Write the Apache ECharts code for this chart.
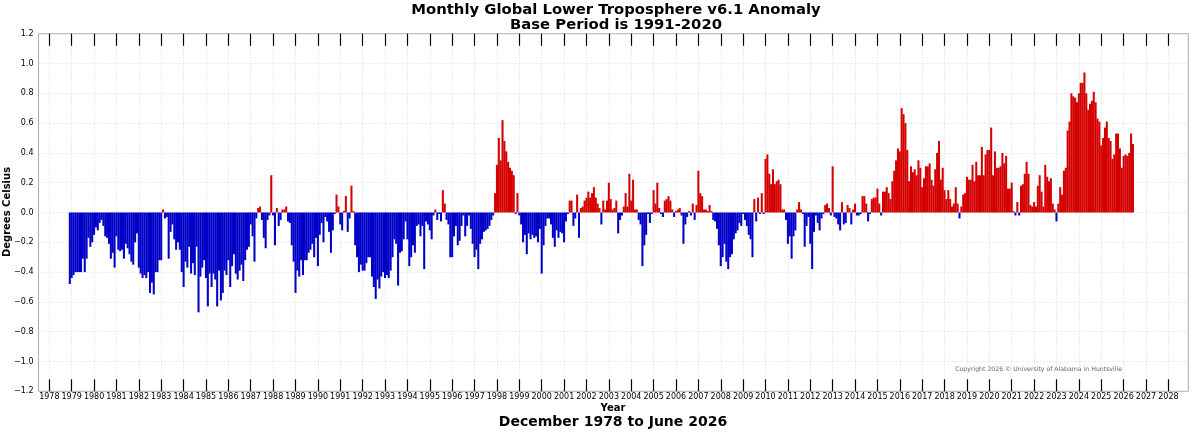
<!DOCTYPE html>
<html><head><meta charset="utf-8">
<script src="https://cdn.jsdelivr.net/npm/echarts@6/dist/echarts.min.js"></script>
<style>html,body{margin:0;padding:0;background:#fff}#c{width:1195px;height:432px}</style>
</head><body><div id="c"></div>
<script>
// first value is December 1978, then consecutive months
const firstYear = 1978, firstMonth = 12;
const anom1970s = [
  -0.48,
  -0.44,-0.42,-0.40,-0.40,-0.40,-0.40,-0.31,-0.40,-0.31,-0.17,-0.23,-0.20 // 1979
];
const anom1980s = [
  -0.15,-0.10,-0.12,-0.07,-0.05,-0.09,-0.16,-0.17,-0.21,-0.31,-0.27,-0.37, // 1980
  -0.16,-0.25,-0.26,-0.25,-0.31,-0.21,-0.24,-0.28,-0.33,-0.35,-0.20,-0.14, // 1981
  -0.37,-0.41,-0.44,-0.42,-0.44,-0.40,-0.54,-0.47,-0.55,-0.40,-0.40,-0.32, // 1982
  -0.32, 0.02,-0.04,-0.03,-0.31,-0.13,-0.08,-0.18,-0.25,-0.20,-0.25,-0.40, // 1983
  -0.50,-0.33,-0.37,-0.23,-0.41,-0.34,-0.42,-0.23,-0.67,-0.43,-0.37,-0.32, // 1984
  -0.44,-0.63,-0.41,-0.50,-0.41,-0.45,-0.63,-0.39,-0.59,-0.54,-0.39,-0.42, // 1985
  -0.32,-0.50,-0.36,-0.28,-0.41,-0.45,-0.39,-0.35,-0.46,-0.32,-0.25,-0.23, // 1986
  -0.08,-0.16,-0.33,-0.04, 0.03, 0.04,-0.05,-0.17,-0.24,-0.05,-0.02, 0.25, // 1987
  -0.02,-0.22, 0.03,-0.09,-0.05, 0.02, 0.02, 0.04,-0.06,-0.07,-0.22,-0.33, // 1988
  -0.54,-0.39,-0.43,-0.32,-0.42,-0.32,-0.32,-0.27,-0.25,-0.21,-0.30,-0.17  // 1989
];
const anom1990s = [
  -0.36,-0.15,-0.07,-0.20,-0.03,-0.06,-0.13,-0.27,-0.12,-0.01, 0.12, 0.04, // 1990
  -0.08,-0.12, 0.01, 0.11,-0.13,-0.04, 0.18, 0.01,-0.22,-0.30,-0.40,-0.35, // 1991
  -0.39,-0.39,-0.34,-0.30,-0.30,-0.43,-0.50,-0.58,-0.45,-0.51,-0.43,-0.40, // 1992
  -0.44,-0.42,-0.44,-0.39,-0.30,-0.18,-0.21,-0.49,-0.27,-0.26,-0.18,-0.06, // 1993
  -0.18,-0.36,-0.30,-0.22,-0.27,-0.09,-0.08,-0.16,-0.09,-0.38,-0.06,-0.08, // 1994
  -0.12,-0.18,-0.02, 0.02,-0.05,-0.01,-0.06, 0.15, 0.06,-0.05,-0.08,-0.30, // 1995
  -0.30,-0.16,-0.09,-0.22,-0.19,-0.09,-0.02,-0.16,-0.09,-0.02,-0.11,-0.21, // 1996
  -0.30,-0.25,-0.38,-0.21,-0.18,-0.13,-0.12,-0.11,-0.09,-0.05,-0.02, 0.13, // 1997
   0.32, 0.50, 0.35, 0.62, 0.48, 0.41, 0.34, 0.30, 0.28, 0.25,-0.01, 0.13, // 1998
  -0.02,-0.08,-0.20,-0.15,-0.28,-0.14,-0.18,-0.15,-0.17,-0.16,-0.20,-0.11  // 1999
];
const anom2000s = [
  -0.41,-0.22,-0.09,-0.04,-0.04,-0.08,-0.17,-0.23,-0.12,-0.17,-0.13,-0.14, // 2000
  -0.20,-0.06,-0.01, 0.08, 0.08,-0.09,-0.04, 0.12,-0.17, 0.03, 0.04, 0.08, // 2001
   0.10, 0.14, 0.10, 0.13, 0.17, 0.10, 0.06, 0.03,-0.08, 0.08, 0.02, 0.08, // 2002
   0.20, 0.09, 0.02, 0.03, 0.08,-0.14,-0.05,-0.02, 0.04, 0.13, 0.04, 0.26, // 2003
   0.08, 0.22, 0.02, 0.02,-0.05,-0.08,-0.36,-0.22,-0.15,-0.01,-0.07,-0.01, // 2004
   0.15, 0.06, 0.20, 0.03,-0.01,-0.03, 0.08, 0.09, 0.11, 0.08, 0.02,-0.03, // 2005
   0.01, 0.02, 0.03,-0.02,-0.21,-0.08,-0.03, 0.01,-0.02, 0.06,-0.05, 0.05, // 2006
   0.28, 0.13, 0.11, 0.02, 0.02, 0.01, 0.05, 0.01,-0.05,-0.06,-0.11,-0.22, // 2007
  -0.36,-0.30,-0.21,-0.33,-0.38,-0.30,-0.28,-0.18,-0.14,-0.12,-0.07,-0.09, // 2008
  -0.01,-0.05,-0.09,-0.15,-0.18,-0.30, 0.09,-0.06, 0.10,-0.01, 0.13,-0.01  // 2009
];
const anom2010s = [
   0.36, 0.39, 0.26, 0.19, 0.29, 0.19, 0.21, 0.22, 0.19, 0.02, 0.02,-0.05, // 2010
  -0.21,-0.16,-0.31,-0.16,-0.12, 0.02, 0.07, 0.02,-0.01,-0.23,-0.09,-0.03, // 2011
  -0.21,-0.38,-0.13,-0.02,-0.07,-0.12,-0.04,-0.01, 0.05, 0.06, 0.03,-0.02, // 2012
   0.31,-0.03,-0.04,-0.08,-0.12, 0.07,-0.08,-0.07, 0.05, 0.03,-0.08, 0.02, // 2013
   0.06,-0.02,-0.02,-0.01, 0.11, 0.11, 0.06,-0.06,-0.01, 0.09, 0.10, 0.10, // 2014
   0.16, 0.06,-0.02, 0.14, 0.14, 0.17, 0.13, 0.09, 0.21, 0.28, 0.35, 0.43, // 2015
   0.41, 0.70, 0.66, 0.60, 0.42, 0.21, 0.31, 0.27, 0.29, 0.25, 0.35, 0.30, // 2016
   0.17, 0.23, 0.31, 0.31, 0.33, 0.22, 0.18, 0.29, 0.40, 0.48, 0.22, 0.30, // 2017
   0.15, 0.09, 0.15, 0.09, 0.04, 0.06, 0.17, 0.06,-0.04, 0.04, 0.12, 0.13, // 2018
   0.24, 0.22, 0.22, 0.32, 0.21, 0.34, 0.25, 0.25, 0.44, 0.25, 0.39, 0.42  // 2019
];
const anom2020s = [
   0.42, 0.57, 0.25, 0.41, 0.30, 0.30, 0.31, 0.40, 0.33, 0.38, 0.16, 0.16, // 2020
   0.20, 0.01,-0.02, 0.07,-0.02, 0.18, 0.19, 0.26, 0.34, 0.26, 0.05, 0.04, // 2021
   0.07, 0.04, 0.18, 0.25, 0.14, 0.04, 0.32, 0.24, 0.21, 0.23, 0.06, 0.02, // 2022
  -0.06, 0.06, 0.17, 0.12, 0.28, 0.30, 0.55, 0.61, 0.80, 0.78, 0.77, 0.74, // 2023
   0.80, 0.87, 0.87, 0.94, 0.80, 0.69, 0.73, 0.75, 0.81, 0.74, 0.63, 0.61, // 2024
   0.45, 0.50, 0.57, 0.61, 0.50, 0.48, 0.36, 0.39, 0.53, 0.53, 0.43, 0.30, // 2025
   0.38, 0.39, 0.38, 0.40, 0.53, 0.46                                      // 2026
];
const yearTicks = [];
for (let y = 1978; y <= 2028; y++) yearTicks.push(y);

const allValues = [].concat(anom1970s, anom1980s, anom1990s, anom2000s, anom2010s, anom2020s);
const points = allValues.map((v, i) => {
  const m = firstMonth - 1 + i;               // months since Jan of firstYear
  const x = firstYear + Math.floor(m / 12) + (m % 12) / 12;
  return [x, v];
});

const font = 'DejaVu Sans';
const chart = echarts.init(document.getElementById('c'), null, {renderer: 'canvas'});
const fmtY = v => (v < -1e-9 ? '\u2212' : '') + Math.abs(v).toFixed(1);
const tickStyle = {show: true, inside: true, length: 12, lineStyle: {color: '#000', width: 1.2}, customValues: yearTicks};
chart.setOption({
  animation: false,
  backgroundColor: '#fff',
  title: {
    text: 'Monthly Global Lower Troposphere v6.1 Anomaly\nBase Period is 1991-2020',
    left: 611, top: -2, textAlign: 'center',
    textStyle: {fontFamily: font, fontSize: 14.8, fontWeight: 'bold', lineHeight: 15, color: '#000'}
  },
  grid: {left: 38.5, top: 33.7, width: 1149.8, height: 357.6, show: true, borderColor: '#aaa', borderWidth: 1, containLabel: false},
  xAxis: [{
    type: 'value', min: 1977.517, max: 2028.89, position: 'bottom',
    axisLine: {show: false, onZero: false},
    axisTick: tickStyle,
    axisLabel: {show: true, customValues: yearTicks, fontFamily: font, fontSize: 8, color: '#000', margin: 2, formatter: v => String(Math.round(v))},
    splitLine: {show: true, lineStyle: {color: '#d0d0d0', type: [1, 2], width: 0.8}}
  }, {
    type: 'value', min: 1977.517, max: 2028.89, position: 'top',
    axisLine: {show: false, onZero: false},
    axisTick: tickStyle,
    axisLabel: {show: false},
    splitLine: {show: false}
  }],
  yAxis: {
    type: 'value', min: -1.2, max: 1.2, interval: 0.2,
    axisLine: {show: false}, axisTick: {show: false},
    axisLabel: {fontFamily: font, fontSize: 8, color: '#000', margin: 5, formatter: fmtY},
    splitLine: {show: true, lineStyle: {color: '#d0d0d0', type: [1, 2], width: 0.8}}
  },
  series: [{
    type: 'bar', xAxisIndex: 0, data: points, barWidth: 2.05,
    itemStyle: {
      color: p => (p.value[1] >= 0 ? '#d40000' : '#0000c8')
    }
  }],
  graphic: [
    {type: 'text', x: 613, y: 403, style: {text: 'Year', font: 'bold 10px "DejaVu Sans"', fill: '#000', align: 'center', verticalAlign: 'top'}},
    {type: 'text', x: 613, y: 415, style: {text: 'December 1978 to June 2026', font: 'bold 14px "DejaVu Sans"', fill: '#000', align: 'center', verticalAlign: 'top'}},
    {type: 'text', x: 2, y: 212, rotation: Math.PI / 2, style: {text: 'Degrees Celsius', font: 'bold 10px "DejaVu Sans"', fill: '#000', align: 'center', verticalAlign: 'top'}},
    {type: 'text', x: 1122, y: 369, style: {text: 'Copyright 2026 \u00a9 University of Alabama in Huntsville', font: '6.2px "DejaVu Sans"', fill: '#666', align: 'right', verticalAlign: 'middle'}}
  ]
});
</script></body></html>
